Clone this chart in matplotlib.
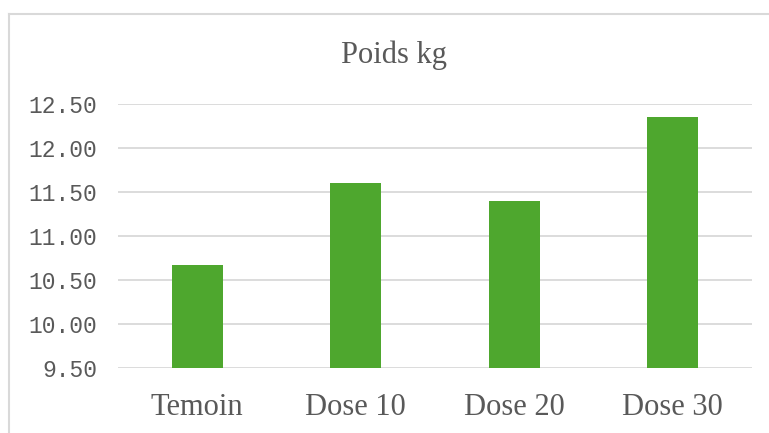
import matplotlib
matplotlib.use("Agg")
import matplotlib.pyplot as plt
from matplotlib.lines import Line2D

# data
categories = ["Temoin", "Dose 10", "Dose 20", "Dose 30"]
poids = [10.67, 11.60, 11.40, 12.35]
yticks = [9.5, 10.0, 10.5, 11.0, 11.5, 12.0, 12.5]

green = "#4EA72E"
grey_txt = "#595959"
grid_col = "#D9D9D9"

fig = plt.figure(figsize=(7.69, 4.33), dpi=100)
ax = fig.add_axes([118/769, 1-368/433, (752-118)/769, (368-104)/433])

ax.bar(range(len(categories)), poids, width=0.32, color=green, zorder=3)
ax.set_xlim(-0.5, len(categories)-0.5)
ax.set_ylim(9.5, 12.5)
ax.set_yticks(yticks)
ax.set_yticklabels([f"{v:.2f}" for v in yticks], family="Liberation Mono", fontsize=16.5, color=grey_txt)
ax.set_xticks(range(len(categories)))
ax.set_xticklabels(categories, family="Liberation Serif", fontsize=22, color=grey_txt)
ax.tick_params(axis="y", length=0, pad=15)
ax.tick_params(axis="x", length=0, pad=18)
ax.grid(axis="y", color=grid_col, linewidth=1.3, zorder=0)
for s in ax.spines.values():
	s.set_visible(False)

fig.text(394/769, 1-63/433, "Poids kg", family="Liberation Serif", fontsize=22,
	color=grey_txt, ha="center", va="baseline")

# chart-area frame (only left and top edges show)
fig.add_artist(Line2D([8.5/769, 8.5/769], [0, 1-13.5/433], transform=fig.transFigure, color=grid_col, linewidth=1.5))
fig.add_artist(Line2D([8.5/769, 1], [1-13.5/433, 1-13.5/433], transform=fig.transFigure, color=grid_col, linewidth=1.5))

fig.savefig("out.png", dpi=100)
